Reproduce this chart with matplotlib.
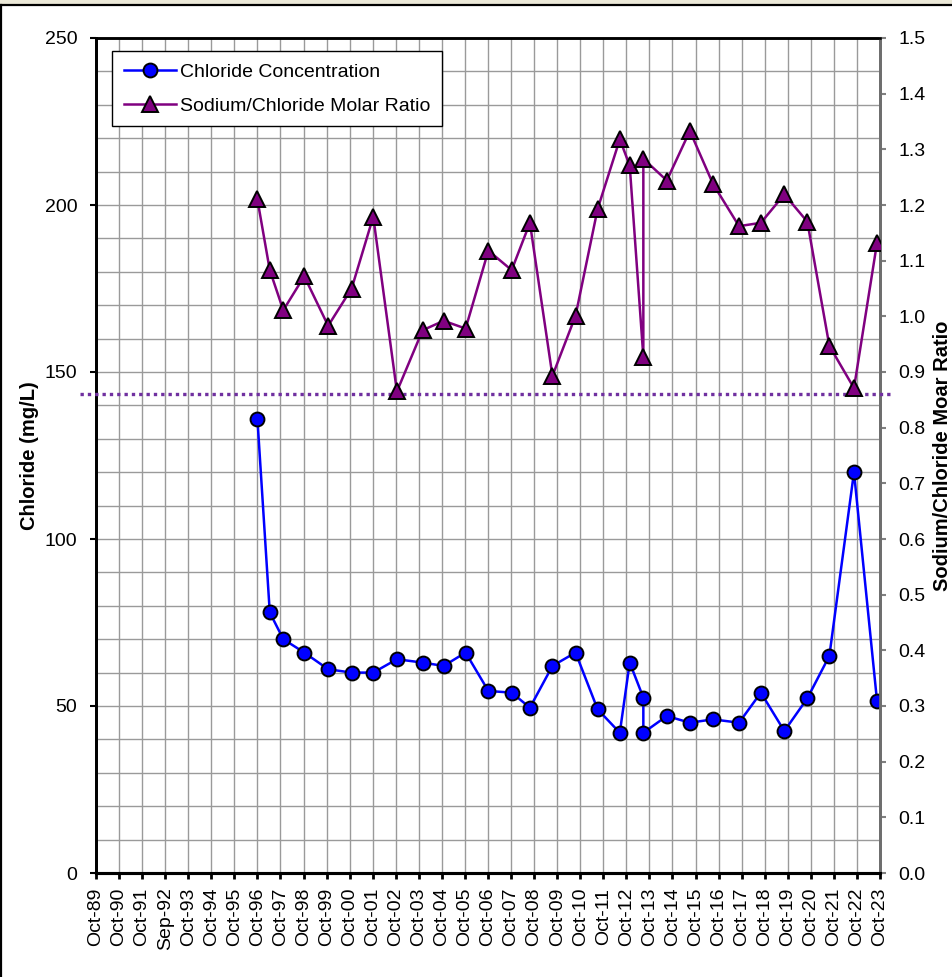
import matplotlib
matplotlib.use("Agg")
import matplotlib.pyplot as plt
import matplotlib.dates as mdates
from matplotlib.lines import Line2D
import numpy as np
import pandas as pd

plt.rcParams["font.family"] = ["Liberation Sans", "DejaVu Sans"]

# ---- data ----
sample_dates = [
    "1996-10-01", "1997-04-15", "1997-11-15", "1998-10-13", "1999-10-27",
    "2000-11-02", "2001-10-10", "2002-10-20", "2003-12-01", "2004-10-30",
    "2005-10-12", "2006-10-08", "2007-10-12", "2008-07-27", "2009-07-19",
    "2010-07-20", "2011-07-05", "2012-06-20", "2012-11-24", "2013-06-28",
    "2013-06-28", "2014-07-05", "2015-07-05", "2016-07-05", "2017-08-22",
    "2018-08-03", "2019-08-10", "2020-08-08", "2021-07-23", "2022-08-17",
    "2023-08-17",
]
chloride = [
    136, 78, 70, 66, 61, 60, 60, 64, 63, 62,
    66, 54.5, 54, 49.5, 62, 66, 49, 42, 63, 52.5,
    42, 47, 45, 46, 45, 54, 42.5, 52.3, 65, 120,
    51.5,
]
na_cl_ratio = [
    1.21, 1.083, 1.011, 1.072, 0.983, 1.05, 1.179, 0.865, 0.975, 0.992,
    0.978, 1.118, 1.083, 1.168, 0.893, 1.001, 1.193, 1.318, 1.271, 0.927,
    1.283, 1.244, 1.333, 1.238, 1.162, 1.168, 1.219, 1.17, 0.947, 0.871,
    1.132,
]
seawater_ratio = 0.86

tick_labels = [
    "Oct-89", "Oct-90", "Oct-91", "Sep-92", "Oct-93", "Oct-94", "Oct-95",
    "Oct-96", "Oct-97", "Oct-98", "Oct-99", "Oct-00", "Oct-01", "Oct-02",
    "Oct-03", "Oct-04", "Oct-05", "Oct-06", "Oct-07", "Oct-08", "Oct-09",
    "Oct-10", "Oct-11", "Oct-12", "Oct-13", "Oct-14", "Oct-15", "Oct-16",
    "Oct-17", "Oct-18", "Oct-19", "Oct-20", "Oct-21", "Oct-22", "Oct-23",
]
axis_start = "1989-10-01"
tick_step_days = 365.3

# ---- figure ----
W, H = 953, 977
fig = plt.figure(figsize=(W / 100, H / 100), dpi=100)
ax = fig.add_axes([96 / W, 1 - 873 / H, 784 / W, 835 / H])
ax2 = ax.twinx()

x = mdates.date2num(pd.to_datetime(sample_dates))
x0 = mdates.date2num(pd.Timestamp(axis_start))
xticks = x0 + tick_step_days * np.arange(len(tick_labels))

grid_col = "#9a9a9a"

# chloride on the left axis
ax.plot(x, chloride, color="#0000FF", lw=1.8, marker="o", ms=10,
        mfc="#0000FF", mec="black", mew=1.4, zorder=5)
ax.set_xlim(xticks[0], xticks[-1])
ax.set_ylim(0, 250)
ax.set_yticks(np.arange(0, 251, 50))
ax.set_yticks(np.arange(0, 251, 10), minor=True)
ax.set_xticks(xticks)
ax.set_xticklabels(tick_labels, rotation=90, fontsize=14)
ax.tick_params(axis="y", which="major", direction="out", length=4.5, width=1.5,
               color="black", labelsize=14, pad=9)
ax.tick_params(axis="y", which="minor", length=0)
ax.tick_params(axis="x", direction="out", length=4.5, width=2, color="black", pad=6)
ax.grid(True, which="both", axis="y", color=grid_col, lw=1.0)
ax.grid(True, which="major", axis="x", color=grid_col, lw=1.0)
ax.set_axisbelow(True)

# sodium/chloride molar ratio on the right axis
ax2.plot(x, na_cl_ratio, color="#800080", lw=1.8, marker="^", ms=11,
         mfc="#800080", mec="black", mew=1.4, zorder=5)
ax2.plot([-0.02, 1.015], [seawater_ratio, seawater_ratio],
         transform=ax2.get_yaxis_transform(), clip_on=False,
         color="#7030A0", lw=2.4, linestyle=(0, (1, 1.2)), zorder=3)
ax2.set_ylim(0, 1.5)
ax2.set_yticks(np.arange(0, 1.51, 0.1))
ax2.set_yticklabels([f"{v:.1f}" for v in np.arange(0, 1.51, 0.1)])
ax2.tick_params(axis="y", direction="out", length=4.5, width=1.5,
                color="#808080", labelsize=14, pad=9)

# axis titles
fig.text(30 / W, 1 - 456 / H, "Chloride (mg/L)", rotation=90, fontsize=14.5,
         fontweight="bold", ha="center", va="center")
fig.text(943 / W, 1 - 456 / H, "Sodium/Chloride Moar Ratio", rotation=90,
         fontsize=14.5, fontweight="bold", ha="center", va="center")

for a in (ax, ax2):
    a.spines["left"].set_color("black")
    a.spines["left"].set_linewidth(2.0)
    a.spines["top"].set_color("black")
    a.spines["top"].set_linewidth(1.8)
    a.spines["bottom"].set_color("black")
    a.spines["bottom"].set_linewidth(2.2)
    a.spines["right"].set_color("#6e6e6e")
    a.spines["right"].set_linewidth(2.0)

handles = [
    Line2D([], [], color="#0000FF", lw=1.8, marker="o", ms=10, mfc="#0000FF",
           mec="black", mew=1.4),
    Line2D([], [], color="#800080", lw=1.8, marker="^", ms=11, mfc="#800080",
           mec="black", mew=1.4),
]
leg = ax2.legend(handles, ["Chloride Concentration", "Sodium/Chloride Molar Ratio"],
                 loc="upper left", bbox_to_anchor=(0.0204, 0.984), borderaxespad=0,
                 fontsize=14, frameon=True, fancybox=False, edgecolor="black",
                 framealpha=1, handlelength=2.7, handletextpad=0.2,
                 labelspacing=0.85, borderpad=0.6)
leg.get_frame().set_linewidth(1.0)
leg.set_zorder(10)

# window frame around the chart
fig.add_artist(plt.Rectangle((0, 1 - 4 / H), 1, 4 / H, transform=fig.transFigure,
                             color="#ECE9D8", lw=0))
fig.add_artist(Line2D([0, 1], [1 - 5 / H, 1 - 5 / H], transform=fig.transFigure,
                      color="black", lw=1.6))
fig.add_artist(Line2D([1 / W, 1 / W], [0, 1 - 5 / H], transform=fig.transFigure,
                      color="black", lw=1.6))

fig.savefig("out.png", dpi=100)
